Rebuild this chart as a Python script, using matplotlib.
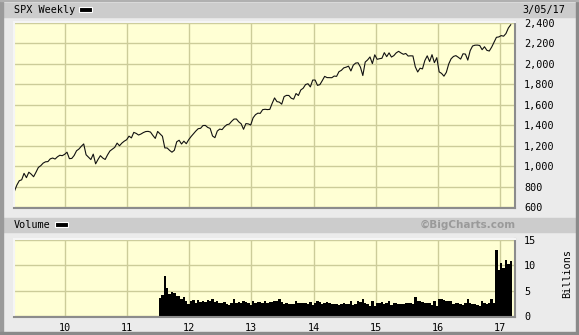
import numpy as np
import pandas as pd
import matplotlib
matplotlib.use("Agg")
import matplotlib.pyplot as plt
import matplotlib.dates as mdates
from matplotlib.patches import Rectangle

# S&P 500, one close every two weeks, 2009-03-13 .. 2017-03-03
spx_2009 = [756, 815, 857, 866, 929, 887, 940, 921, 896, 940, 987, 1004, 1029, 1042,
            1044, 1071, 1079, 1069, 1091, 1106, 1102]
spx_2010 = [1115, 1136, 1073, 1075, 1104, 1150, 1167, 1194, 1217, 1111, 1087, 1064, 1117,
            1022, 1065, 1102, 1079, 1065, 1110, 1148, 1166, 1183, 1225, 1199, 1225, 1244, 1258]
spx_2011 = [1293, 1276, 1330, 1320, 1304, 1314, 1328, 1338, 1340, 1333, 1300, 1271, 1339,
            1316, 1292, 1178, 1177, 1154, 1136, 1155, 1238, 1253, 1216, 1244, 1219, 1258]
spx_2012 = [1289, 1316, 1343, 1366, 1370, 1397, 1398, 1378, 1369, 1295, 1278, 1343, 1362,
            1357, 1385, 1405, 1411, 1438, 1460, 1461, 1433, 1414, 1360, 1416, 1413, 1402]
spx_2013 = [1472, 1503, 1518, 1516, 1552, 1556, 1553, 1555, 1614, 1667, 1631, 1626, 1606,
            1680, 1692, 1691, 1664, 1655, 1710, 1691, 1745, 1762, 1798, 1806, 1775, 1842]
spx_2014 = [1842, 1790, 1797, 1836, 1878, 1866, 1865, 1865, 1881, 1878, 1924, 1937, 1961,
            1968, 1978, 1931, 1988, 2008, 2011, 1968, 1886, 2018, 2039, 2068, 2003, 2089]
spx_2015 = [2045, 2051, 2055, 2110, 2071, 2108, 2067, 2081, 2108, 2123, 2107, 2094, 2102,
            2077, 2079, 2078, 1971, 1921, 1958, 1951, 2033, 2079, 2023, 2090, 2012, 2061]
spx_2016 = [1922, 1907, 1880, 1917, 1999, 2050, 2073, 2081, 2065, 2047, 2099, 2096, 2037,
            2130, 2175, 2183, 2184, 2180, 2139, 2168, 2133, 2126, 2164, 2213, 2260, 2264]
spx_2017 = [2277, 2271, 2297, 2351, 2383]

# volume, billions of shares (zero before mid 2011 in the source)
vol_2009 = [0] * 21
vol_2010 = [0] * 27
vol_2011 = [0] * 13 + [3.5, 4.2, 7.9, 5.6, 4.3, 4.8, 4.6, 4.0, 3.9, 3.4, 3.8, 3.0, 2.3]
vol_2012 = [3.0, 3.2, 2.6, 3.1, 2.8, 3.0, 2.7, 3.1, 2.9, 3.4, 2.8, 3.0, 2.6,
            2.5, 2.7, 2.3, 2.2, 2.6, 3.3, 2.6, 2.8, 2.5, 3.0, 2.7, 2.6, 2.2]
vol_2013 = [2.9, 2.6, 2.7, 2.8, 2.5, 2.9, 2.6, 2.8, 2.7, 3.0, 2.9, 3.3, 2.8,
            2.4, 2.5, 2.3, 2.4, 2.4, 3.0, 2.5, 2.6, 2.5, 2.6, 2.3, 2.7, 2.2]
vol_2014 = [2.6, 2.9, 2.8, 2.4, 2.5, 2.7, 2.6, 2.3, 2.4, 2.4, 2.2, 2.4, 2.5,
            2.3, 2.3, 2.9, 2.1, 2.3, 2.9, 2.8, 3.3, 2.6, 2.3, 2.0, 2.9, 1.9]
vol_2015 = [2.6, 2.5, 2.7, 2.4, 2.5, 3.0, 2.2, 2.6, 2.5, 2.4, 2.4, 2.3, 2.6,
            2.5, 2.5, 2.4, 3.8, 2.9, 3.0, 2.7, 2.6, 2.5, 2.6, 2.2, 2.9, 2.0]
vol_2016 = [3.3, 3.4, 3.2, 3.0, 2.9, 3.0, 2.4, 2.6, 2.5, 2.4, 2.2, 2.6, 3.4,
            2.5, 2.4, 2.3, 2.2, 2.0, 2.9, 2.5, 2.4, 2.6, 3.3, 2.6, 13.0, 9.0]
vol_2017 = [10.5, 9.5, 11.0, 10.2, 10.8]

spx = spx_2009 + spx_2010 + spx_2011 + spx_2012 + spx_2013 + spx_2014 + spx_2015 + spx_2016 + spx_2017
vol = vol_2009 + vol_2010 + vol_2011 + vol_2012 + vol_2013 + vol_2014 + vol_2015 + vol_2016 + vol_2017
dates = pd.date_range('2009-03-13', periods=len(spx), freq='2W-FRI')

price_ticks = list(range(600, 2401, 200))
vol_ticks = [0, 5, 10, 15]

W, H = 579, 335
bg = '#EBEBEB'
bar_gray = '#CCCCCC'
plot_bg = '#FFFFD4'
grid_c = '#CCCC99'
font = 'DejaVu Sans Mono'

fig = plt.figure(figsize=(W / 100, H / 100), dpi=100, facecolor=bg)

def fx(x):
    return x / W

def fy(y):
    return 1 - y / H

def box(x0, y0, x1, y1, **kw):
    fig.patches.append(Rectangle((fx(x0), fy(y1)), fx(x1 - x0), (y1 - y0) / H,
                                 transform=fig.transFigure, **kw))

# header strips
box(3, 3, 576, 17, color=bar_gray, zorder=0)
box(3, 218, 576, 232, color=bar_gray, zorder=0)
# outer frame
box(0, 0, 3, 335, color='#9A9A9A', zorder=0)
box(576, 0, 579, 335, color='#8A8A8A', zorder=0)
box(0, 332, 579, 335, color='#8A8A8A', zorder=0)
box(0, 0, 579, 1, color='#B0B0B0', zorder=0)

ax1 = fig.add_axes([fx(14), fy(208), fx(515 - 14), (208 - 22) / H])
ax2 = fig.add_axes([fx(14), fy(317), fx(515 - 14), (317 - 239) / H])

xlim = (pd.Timestamp('2009-03-10'), pd.Timestamp('2017-03-28'))

for ax in (ax1, ax2):
    ax.set_facecolor(plot_bg)
    ax.set_xlim(xlim)
    ax.xaxis.set_major_locator(mdates.YearLocator())
    ax.xaxis.set_major_formatter(mdates.DateFormatter('%y'))
    ax.grid(True, color=grid_c, linewidth=1.0)
    ax.set_axisbelow(True)
    ax.yaxis.tick_right()
    ax.tick_params(length=0, labelsize=7.3, pad=6.5)
    for lab in ax.get_xticklabels() + ax.get_yticklabels():
        lab.set_fontfamily(font)
    ax.spines['left'].set_color('#F5F5F5')
    ax.spines['top'].set_color('#F5F5F5')
    ax.spines['right'].set_color('#8C8C8C')
    ax.spines['bottom'].set_color('#8C8C8C')
    for s in ax.spines.values():
        s.set_linewidth(1.5)

ax1.plot(dates, spx, color='#111111', linewidth=0.8)
ax1.set_ylim(590, 2410)
ax1.set_yticks(price_ticks)
ax1.set_yticklabels([f'{v:,}' for v in price_ticks], fontfamily=font)
ax1.tick_params(axis='x', labelbottom=False)

ax2.bar(dates, vol, width=14, color='black', linewidth=0)
ax2.set_ylim(-0.2, 15.2)
ax2.set_yticks(vol_ticks)
ax2.set_yticklabels([str(v) for v in vol_ticks], fontfamily=font)
ax2.tick_params(axis='x', pad=4)
for lab in ax2.get_yticklabels():
    lab.set_horizontalalignment('left')
for lab in ax1.get_yticklabels():
    lab.set_horizontalalignment('left')

# header texts and legend swatches
fig.text(fx(14), fy(10), 'SPX Weekly', fontsize=7.3, family=font, va='center', ha='left')
box(79, 7, 92, 12, facecolor='black', edgecolor='white', linewidth=0.8, zorder=3)
fig.text(fx(14), fy(225), 'Volume', fontsize=7.3, family=font, va='center', ha='left')
box(55, 222, 68, 227, facecolor='black', edgecolor='white', linewidth=0.8, zorder=3)
fig.text(fx(565), fy(10), '3/05/17', fontsize=7.3, family=font, va='center', ha='right')
fig.text(fx(516), fy(225), '\u00a9BigCharts.com', fontsize=7.5, family='DejaVu Sans',
         weight='bold', color='#9A9A9A', va='center', ha='right')
fig.text(fx(567), fy(274), 'Billions', fontsize=7.3, family=font, va='center', ha='center',
         rotation=90)

fig.savefig('out.png', dpi=100, facecolor=bg)
